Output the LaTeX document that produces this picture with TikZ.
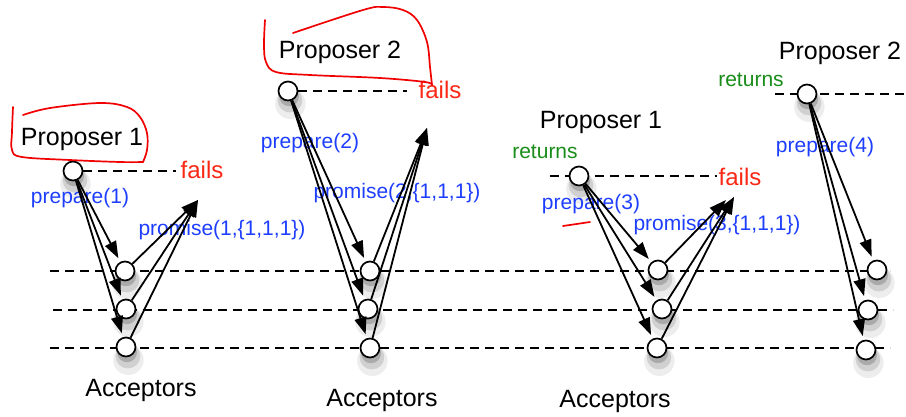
\documentclass[tikz,border=0pt]{standalone}
\usepackage{fontspec}
\setmainfont{Liberation Sans}
\usetikzlibrary{arrows.meta,shadows,backgrounds}
\definecolor{msgblue}{RGB}{30,62,255}
\definecolor{failred}{RGB}{250,40,20}
\definecolor{okgreen}{RGB}{25,140,25}
\definecolor{penred}{RGB}{240,0,0}
\begin{document}
\begin{tikzpicture}[x=1pt,y=-1pt,
  proc/.style={circle,draw,line width=1.7pt,fill=white,minimum size=19pt,inner sep=0pt,
    general shadow={fill=black,opacity=0.07,shadow xshift=1.5pt,shadow yshift=-8pt,shadow scale=1.6},
    general shadow={fill=black,opacity=0.12,shadow xshift=1.5pt,shadow yshift=-7pt,shadow scale=1.3},
    general shadow={fill=black,opacity=0.18,shadow xshift=1pt,shadow yshift=-5pt,shadow scale=1.05}},
  msg/.style={line width=1.8pt,-{Triangle[length=17pt,width=12pt]},shorten >=4pt},
  reply/.style={line width=1.8pt,-{Triangle[length=17pt,width=12pt]}},
  timeline/.style={line width=1.6pt,dash pattern=on 9pt off 6pt},
  role/.style={font=\fontsize{25}{30}\selectfont},
  msglabel/.style={text=msgblue,font=\fontsize{21}{25}\selectfont},
  faillabel/.style={text=failred,font=\fontsize{24}{28}\selectfont},
  retlabel/.style={text=okgreen,font=\fontsize{21}{25}\selectfont},
  redpen/.style={draw=penred,line width=1.7pt,line cap=round,line join=round}]
\useasboundingbox (0,0) rectangle (906,416);

% acceptor timelines
\coordinate (l1s) at (50,271);  \coordinate (l1e) at (890,271);
\coordinate (l2s) at (53,310);  \coordinate (l2e) at (893,310);
\coordinate (l3s) at (50,348);  \coordinate (l3e) at (890,348);

% ---------- round 1: Proposer 1, prepare(1) ----------
\node[role] (t1) at (82,139) {Proposer 1};
\node[proc] (p1) at (73,171) {};
\node[faillabel] (f1) at (202,170) {fails};
\coordinate (f1e) at (176,171);
\node[proc] (a11) at (125,271) {};
\node[proc] (a12) at (126,309) {};
\node[proc] (a13) at (126,347) {};
\node[msglabel] (m1) at (80,198) {prepare(1)};
\node[msglabel] (r1) at (222,230) {promise(1,\{1,1,1\})};
\node[role] (acc1) at (141,390) {Acceptors};
\coordinate (g1) at (198,200);
\draw[msg] (p1) -- (a11);
\draw[msg] (p1) -- (a12);
\draw[msg] (p1) -- (a13);
\draw[reply] (a11) -- (g1);
\draw[reply] (a12) -- (g1);
\draw[reply] (a13) -- (g1);
\draw[redpen] plot[smooth,tension=0.6] coordinates
  {(13,107) (12,132) (12,150) (22,157) (70,160) (120,162) (143,162)};
\draw[redpen] plot[smooth,tension=0.6] coordinates
  {(143,162) (147,150) (147,133) (140,117) (127,107) (100,103) (50,108) (23,115)};

% ---------- round 2: Proposer 2, prepare(2) ----------
\node[role] (t2) at (340,52) {Proposer 2};
\node[proc] (p2) at (288,91) {};
\node[faillabel] (f2) at (440,90) {fails};
\coordinate (f2e) at (407,91);
\node[proc] (a21) at (370,271) {};
\node[proc] (a22) at (368,309) {};
\node[proc] (a23) at (370,348) {};
\node[msglabel] (m2) at (310,143) {prepare(2)};
\node[msglabel] (r2) at (397,193) {promise(2,\{1,1,1\})};
\node[role] (acc2) at (382,400) {Acceptors};
\coordinate (g2) at (427,128);
\draw[msg] (p2) -- (a21);
\draw[msg] (p2) -- (a22);
\draw[msg] (p2) -- (a23);
\draw[reply] (a21) -- (g2);
\draw[reply] (a22) -- (g2);
\draw[reply] (a23) -- (g2);
\draw[redpen] plot[smooth,tension=0.6] coordinates
  {(265,20) (264,45) (266,62) (276,72) (310,75) (380,78) (425,82) (432,85)};
\draw[redpen] plot[smooth,tension=0.6] coordinates
  {(432,85) (430,67) (427,42) (417,20) (403,10) (383,7) (363,10) (293,33)};

% ---------- round 3: Proposer 1 returns, prepare(3) ----------
\node[role] (t3) at (601,122) {Proposer 1};
\node[retlabel] (ret3) at (545,152) {returns};
\node[proc] (p3) at (579,176) {};
\node[faillabel] (f3) at (740,177) {fails};
\coordinate (f3s) at (550,176);
\coordinate (f3e) at (717,176);
\node[proc] (a31) at (658,270) {};
\node[proc] (a32) at (662,309) {};
\node[proc] (a33) at (657,348) {};
\node[msglabel] (m3) at (591,204) {prepare(3)};
\node[msglabel] (r3) at (717,225) {promise(3,\{1,1,1\})};
\node[role] (acc3) at (615,401) {Acceptors};
\coordinate (g3a) at (726,200);
\coordinate (g3b) at (734,197);
\draw[msg] (p3) -- (a31);
\draw[msg] (p3) -- (a32);
\draw[msg] (p3) -- (a33);
\draw[reply] (a31) -- (g3a);
\draw[reply] (a32) -- (g3b);
\draw[reply] (a33) -- (g3b);
\draw[redpen] (563,226) -- (590,222);

% ---------- round 4: Proposer 2 returns, prepare(4) ----------
\node[role] (t4) at (840,53) {Proposer 2};
\node[retlabel] (ret4) at (751,80) {returns};
\node[proc] (p4) at (807,94) {};
\coordinate (f4s) at (775,94);
\coordinate (f4e) at (906,94);
\node[proc] (a41) at (877,270) {};
\node[proc] (a42) at (868,310) {};
\node[proc] (a43) at (866,350) {};
\node[msglabel] (m4) at (825,147) {prepare(4)};
\draw[msg] (p4) -- (a41);
\draw[msg] (p4) -- (a42);
\draw[msg] (p4) -- (a43);

% dashed timelines behind everything
\begin{scope}[on background layer]
  \draw[timeline] (l1s) -- (l1e);
  \draw[timeline] (l2s) -- (l2e);
  \draw[timeline] (l3s) -- (l3e);
  \draw[timeline] (p1) -- (f1e);
  \draw[timeline] (p2) -- (f2e);
  \draw[timeline] (f3s) -- (f3e);
  \draw[timeline] (f4s) -- (f4e);
\end{scope}
\end{tikzpicture}
\end{document}
